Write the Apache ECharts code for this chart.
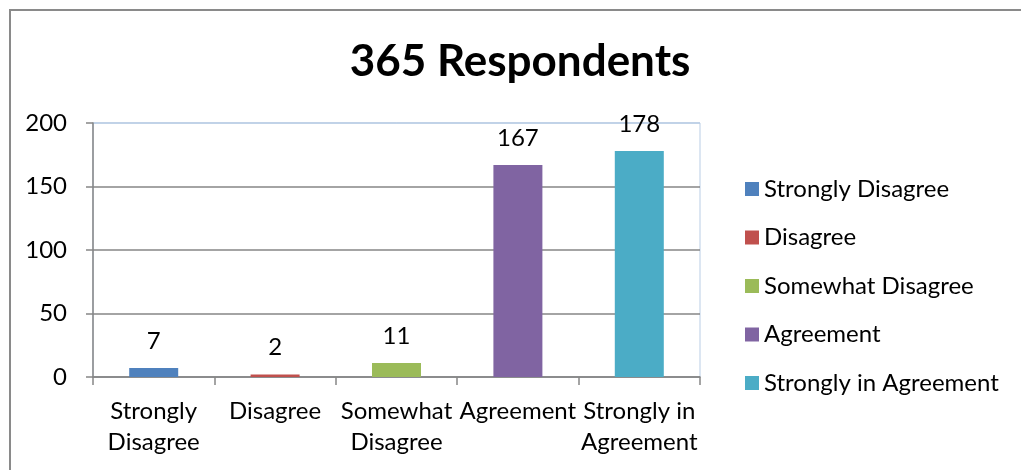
<!DOCTYPE html>
<html>
<head>
<meta charset="utf-8">
<script src="https://cdn.jsdelivr.net/npm/echarts@6/dist/echarts.min.js"></script>
<style>
  html, body { margin: 0; padding: 0; background: #fff; }
  #chart { width: 1021px; height: 470px; }
</style>
</head>
<body>
<div id="chart"></div>
<script>
const categories = ['Strongly Disagree', 'Disagree', 'Somewhat Disagree', 'Agreement', 'Strongly in Agreement'];
const tickLabels = ['Strongly\nDisagree', 'Disagree', 'Somewhat\nDisagree', 'Agreement', 'Strongly in\nAgreement'];
const counts = [7, 2, 11, 167, 178];
const colors = ['#4f81bd', '#c0504d', '#9bbb59', '#8064a2', '#4bacc6'];

const font = 'Lato, "Open Sans", sans-serif';
const chart = echarts.init(document.getElementById('chart'));

// one series per category so the legend lists each answer
const series = categories.map((name, i) => ({
  name,
  type: 'bar',
  stack: 'all',
  barWidth: 49,
  itemStyle: { color: colors[i] },
  label: {
    show: true,
    position: 'top',
    distance: 15,
    fontSize: 24,
    fontFamily: font,
    color: '#000',
  },
  data: categories.map((c, j) => (j === i ? counts[i] : '-')),
}));

chart.setOption({
  animation: false,
  textStyle: { fontFamily: font },
  title: {
    text: '365 Respondents',
    left: 515,
    top: 35,
    textAlign: 'center',
    textStyle: { fontSize: 44, fontWeight: 'bold', color: '#000', fontFamily: font },
  },
  graphic: [{
    type: 'rect',
    shape: { x: 10, y: 10, width: 1100, height: 600 },
    style: { fill: 'none', stroke: '#8a8a8a', lineWidth: 2 },
    silent: true,
  }],
  legend: {
    orient: 'vertical',
    left: 740,
    top: 170,
    itemWidth: 14,
    itemHeight: 14,
    itemGap: 20.5,
    icon: 'rect',
    textStyle: { fontSize: 24, lineHeight: 28, color: '#000', fontFamily: font },
    data: categories,
  },
  grid: {
    left: 93, right: 321, top: 123, bottom: 93,
    show: true, borderColor: '#b9cde5', borderWidth: 1,
  },
  xAxis: {
    type: 'category',
    data: tickLabels,
    axisLine: { lineStyle: { color: '#868686', width: 1.5 } },
    axisTick: { show: true, length: 8, lineStyle: { color: '#868686', width: 1.5 } },
    axisLabel: { fontSize: 24, lineHeight: 31, margin: 19, color: '#000', interval: 0, fontFamily: font },
  },
  yAxis: {
    type: 'value',
    min: 0, max: 200, interval: 50,
    axisLine: { show: true, lineStyle: { color: '#868686', width: 1.5 } },
    axisTick: { show: true, length: 7, lineStyle: { color: '#868686', width: 1.5 } },
    axisLabel: { fontSize: 24, margin: 26, color: '#000', fontFamily: font },
    splitLine: { lineStyle: { color: ['#868686', '#868686', '#868686', '#868686', '#b9cde5'], width: 1.5 } },
  },
  series,
});
</script>
</body>
</html>
